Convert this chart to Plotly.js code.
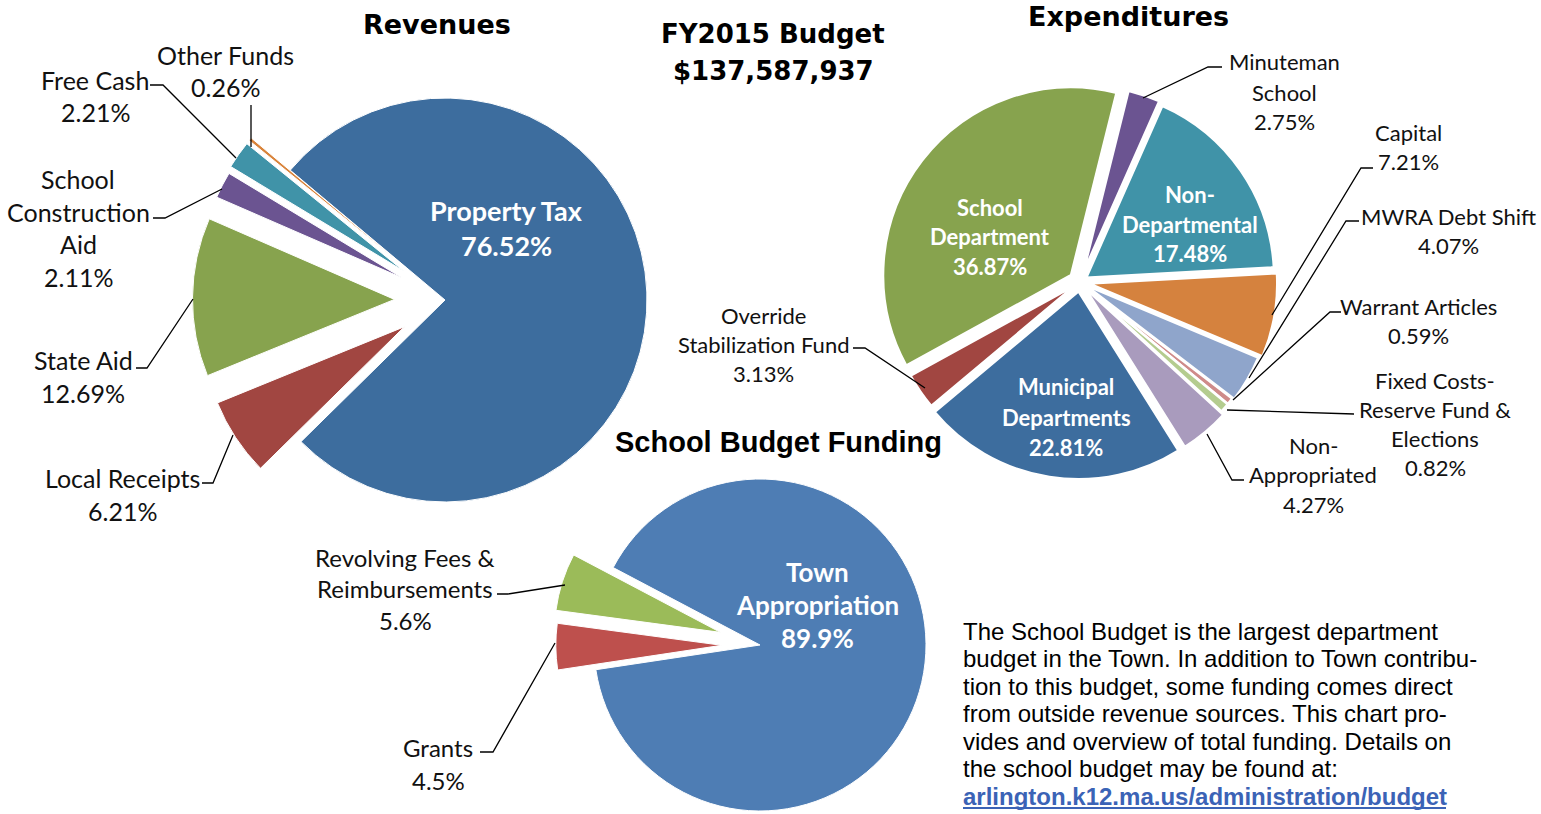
<!DOCTYPE html>
<html>
<head>
<meta charset="utf-8">
<script src="https://cdn.plot.ly/plotly-3.0.1.min.js"></script>
<style>
  html, body { margin: 0; padding: 0; overflow: hidden; background: #fff; }
  #budget { width: 1541px; height: 860px; }
</style>
</head>
<body>
<div id="budget"></div>
<script>
const W = 1541, H = 860;

// Revenues (percent of FY2015 budget)
const revLabels = ['Property Tax', 'Local Receipts', 'State Aid', 'School Construction Aid', 'Free Cash', 'Other Funds'];
const revValues = [76.52, 6.21, 12.69, 2.11, 2.21, 0.26];
const revColors = ['#3d6d9e', '#a14641', '#87a34e', '#6b5491', '#4093a8', '#d9843b'];

// Expenditures
const expLabels = ['Minuteman School', 'Non-Departmental', 'Capital', 'MWRA Debt Shift', 'Warrant Articles',
  'Fixed Costs-Reserve Fund & Elections', 'Non-Appropriated', 'Municipal Departments',
  'Override Stabilization Fund', 'School Department'];
const expValues = [2.75, 17.48, 7.21, 4.07, 0.59, 0.82, 4.27, 22.81, 3.13, 36.87];
const expColors = ['#6b5491', '#4093a8', '#d5823e', '#8fa5cb', '#cf8b8a', '#b4cc8f', '#a99bbd', '#3d6d9e', '#a14641', '#87a34e'];

// School budget funding
const schLabels = ['Town Appropriation', 'Grants', 'Revolving Fees & Reimbursements'];
const schValues = [89.9, 4.5, 5.6];
const schColors = ['#4e7db4', '#be504d', '#9bbb59'];

const revPull = [0, 0.24, 0.25, 0.24, 0.25, 0.25];
const expPull = [0.05, 0.04, 0.05, 0.03, 0.02, 0.02, 0.04, 0.05, 0.03, 0.06];
const schPull = [0, 0.23, 0.25];

const fx = px => px / W;
const fy = py => 1 - py / H;
const pct = v => v + '%';

// square box for a pie of radius r centred at (cx, cy) in page pixels
function pieDomain(cx, cy, r, pulls) {
  const half = r * (1 + Math.max(...pulls));
  return {x: [fx(cx - half), fx(cx + half)], y: [fy(cy + half), fy(cy - half)]};
}

function pie(labels, values, colors, pulls, rotation, domain, lineW) {
  return {
    type: 'pie', labels: labels, values: values, sort: false,
    direction: 'clockwise', rotation: rotation, pull: pulls,
    marker: {colors: colors, line: {color: '#fff', width: lineW}},
    textinfo: 'none', hoverinfo: 'label+percent', domain: domain
  };
}

const data = [
  pie(revLabels, revValues, revColors, revPull, -50, pieDomain(445, 300, 202, revPull), 1),
  pie(expLabels, expValues, expColors, expPull, 14, pieDomain(1080, 282, 188, expPull), 2.5),
  pie(schLabels, schValues, schColors, schPull, -62.2, pieDomain(760, 645, 166, schPull), 1)
];

const LBL = 'Lato, "Open Sans", sans-serif';
const ARIAL = '"Liberation Sans", Arial, sans-serif';
const annotations = [];

function block(lines, cx, y, step, size, opts) {
  opts = opts || {};
  lines.forEach((t, i) => {
    annotations.push({
      xref: 'paper', yref: 'paper', x: fx(cx), y: fy(y + i * step),
      text: opts.bold ? '<b>' + t + '</b>' : t, showarrow: false,
      xanchor: opts.anchor || 'center', yanchor: 'middle',
      font: {family: opts.family || LBL, size: size, color: opts.color || '#111'}
    });
  });
}

// titles
const TITLE = '"DejaVu Sans", sans-serif';
block(['Revenues'], 437, 24, 0, 27, {bold: true, family: TITLE, color: '#000'});
block(['FY2015 Budget', '$137,587,937'], 773, 34, 37, 26, {bold: true, family: TITLE, color: '#000'});
block(['Expenditures'], 1128, 17, 0, 27, {bold: true, family: TITLE, color: '#000'});
block(['School Budget Funding'], 778, 442, 0, 29, {bold: true, family: ARIAL, color: '#000'});

// revenue labels
block([revLabels[0], pct(revValues[0])], 506, 210, 35, 27, {bold: true, color: '#fff'});
block(['Local Receipts', pct(revValues[1])], 122, 478, 33, 25);
block(['State Aid', pct(revValues[2])], 83, 360, 33, 25);
block(['School', 'Construction', 'Aid', pct(revValues[3])], 78, 179, 32.7, 25);
block(['Free Cash', pct(revValues[4])], 95, 80, 32, 25);
block(['Other Funds', pct(revValues[5])], 225, 55, 32, 25);

// expenditure labels
block(['Minuteman', 'School', pct(expValues[0])], 1284, 62, 30, 22);
block(['Non-', 'Departmental', pct(expValues[1])], 1190, 195, 29, 22, {bold: true, color: '#fff'});
block(['Capital', pct(expValues[2])], 1408, 132, 30, 22);
block(['MWRA Debt Shift', pct(expValues[3])], 1448, 216, 30, 22);
block(['Warrant Articles', pct(expValues[4])], 1418, 306, 30, 22);
block(['Fixed Costs-', 'Reserve Fund &', 'Elections', pct(expValues[5])], 1435, 380, 29.3, 22);
block(['Non-', 'Appropriated', pct(expValues[6])], 1313, 445, 29.5, 22);
block(['Municipal', 'Departments', pct(expValues[7])], 1066, 387, 30, 22, {bold: true, color: '#fff'});
block(['Override', 'Stabilization Fund', pct(expValues[8])], 763, 315, 29, 22);
block(['School', 'Department', pct(expValues[9])], 990, 207, 30, 22, {bold: true, color: '#fff'});

// school funding labels
block(['Town', 'Appropriation', pct(schValues[0])], 817, 572, 33, 26, {bold: true, color: '#fff'});
block(['Grants', pct(schValues[1])], 438, 747, 33, 24);
block(['Revolving Fees &', 'Reimbursements', pct(schValues[2])], 405, 557, 31.5, 24);

// note
const noteLines = [
  'The School Budget is the largest department',
  'budget in the Town. In addition to Town contribu-',
  'tion to this budget, some funding comes direct',
  'from outside revenue sources. This chart pro-',
  'vides and overview of total funding. Details on',
  'the school budget may be found at:'
];
block(noteLines, 961, 631, 27.5, 24, {anchor: 'left', family: ARIAL, color: '#000'});
block(['arlington.k12.ma.us/administration/budget'], 961, 796, 0, 24,
  {anchor: 'left', bold: true, family: ARIAL, color: '#3b63b6'});

// leader lines, page pixels
const leaders = [
  [[251, 105], [251, 147]],
  [[150, 85], [163, 85], [236, 158]],
  [[153, 218], [165, 218], [222, 189]],
  [[136, 368], [147, 368], [193, 299]],
  [[202, 483], [213, 483], [233, 435]],
  [[1222, 67], [1208, 67], [1143, 98]],
  [[1373, 168], [1361, 168], [1272, 315]],
  [[1359, 221], [1346, 221], [1249, 378]],
  [[1341, 312], [1330, 312], [1233, 400]],
  [[1354, 414], [1227, 410]],
  [[1244, 480], [1232, 480], [1207, 434]],
  [[853, 348], [865, 348], [925, 388]],
  [[497, 594], [508, 594], [565, 585]],
  [[480, 752], [493, 752], [555, 643]]
];
const shapes = leaders.map(pts => ({
  type: 'path', xref: 'paper', yref: 'paper',
  path: pts.map((p, i) => (i ? 'L' : 'M') + fx(p[0]) + ',' + fy(p[1])).join(' '),
  line: {color: '#000', width: 1.3}
}));
// link underline
shapes.push({type: 'line', xref: 'paper', yref: 'paper', x0: fx(963), x1: fx(1446), y0: fy(808), y1: fy(808),
  line: {color: '#3b63b6', width: 2}});

const layout = {
  width: W, height: H,
  margin: {l: 0, r: 0, t: 0, b: 0},
  paper_bgcolor: '#fff',
  showlegend: false,
  annotations: annotations,
  shapes: shapes
};

Plotly.newPlot('budget', data, layout, {displayModeBar: false, staticPlot: true});
</script>
</body>
</html>
